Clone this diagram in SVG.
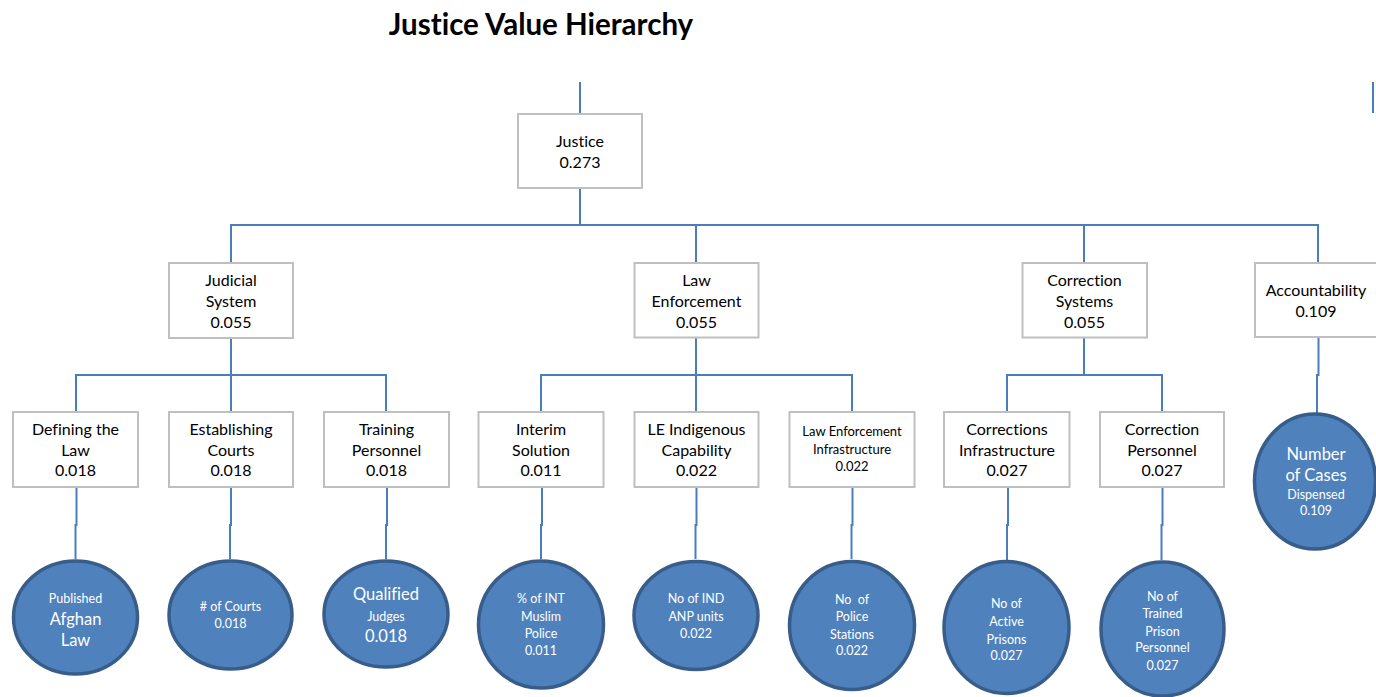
<svg xmlns="http://www.w3.org/2000/svg" width="1376" height="697" viewBox="0 0 1376 697">
<style>
text{font-variant-ligatures:none}
.box{fill:#fff;stroke:#bfbfbf;stroke-width:2}
.ell{fill:#4f81bd;stroke:#385d8a;stroke-width:3.5}
.con{fill:none;stroke:#4a7ebb;stroke-width:2}
.t{font-family:Lato,"Liberation Sans",sans-serif;font-size:16px;fill:#000;text-anchor:middle}
.ts{font-family:Lato,"Liberation Sans",sans-serif;font-size:13px;fill:#000;text-anchor:middle}
.w{font-family:Lato,"Liberation Sans",sans-serif;font-size:12.5px;fill:#fff;text-anchor:middle}
.wl{font-family:Lato,"Liberation Sans",sans-serif;font-size:16.5px;fill:#fff;text-anchor:middle}
.title{font-family:Lato,"Liberation Sans",sans-serif;font-size:29.5px;font-weight:bold;fill:#000;text-anchor:middle}
</style>
<rect width="1376" height="697" fill="#fff"/>
<text class="title" x="541" y="35">Justice Value Hierarchy</text>

<g id="connectors">
<path class="con" d="M580 82 V114"/>
<path class="con" d="M1373 82 V113"/>
<path class="con" d="M580 188 V225"/>
<path class="con" d="M231 263 V225 H1318 V263"/>
<path class="con" d="M696 225 V263"/>
<path class="con" d="M1084 225 V263"/>
<path class="con" d="M231 338 V375"/>
<path class="con" d="M76 412 V375 H386 V412"/>
<path class="con" d="M231 375 V412"/>
<path class="con" d="M696 337 V375"/>
<path class="con" d="M541 412 V375 H852 V412"/>
<path class="con" d="M696 375 V412"/>
<path class="con" d="M1084 337 V375"/>
<path class="con" d="M1007 412 V375 H1162 V412"/>
<path class="con" d="M76.5 487 V525 H75.5 V559"/>
<path class="con" d="M231 487 V525 H230 V559"/>
<path class="con" d="M387 487 V525 H386 V559"/>
<path class="con" d="M542 487 V525 H541 V559"/>
<path class="con" d="M696.5 487 V525 H695.5 V559"/>
<path class="con" d="M852.5 487 V525 H851.5 V559"/>
<path class="con" d="M1008 487 V525 H1007 V560"/>
<path class="con" d="M1162.5 487 V525 H1161.5 V560"/>
<path class="con" d="M1318.5 337 V375 H1317 V413"/>
</g>

<g id="justice"><rect class="box" x="518" y="114" width="124" height="74"/>
<text class="t" x="580" y="147">Justice</text><text class="t" x="580" y="168">0.273</text></g>

<g id="judicial"><rect class="box" x="169" y="263" width="124" height="75"/>
<text class="t" x="231" y="285.5">Judicial</text><text class="t" x="231" y="306.5">System</text><text class="t" x="231" y="327.5">0.055</text></g>

<g id="lawenf"><rect class="box" x="634.5" y="263" width="124" height="74.5"/>
<text class="t" x="696.5" y="285.5">Law</text><text class="t" x="696.5" y="306.5">Enforcement</text><text class="t" x="696.5" y="327.5">0.055</text></g>

<g id="corrsys"><rect class="box" x="1022.5" y="263" width="124.5" height="74.5"/>
<text class="t" x="1084.5" y="285.5">Correction</text><text class="t" x="1084.5" y="306.5">Systems</text><text class="t" x="1084.5" y="327.5">0.055</text></g>

<g id="account"><rect class="box" x="1255" y="263" width="125" height="74"/>
<text class="t" x="1316" y="296">Accountability</text><text class="t" x="1316" y="317">0.109</text></g>

<g id="defining"><rect class="box" x="13" y="412" width="125" height="75"/>
<text class="t" x="75.5" y="434.5">Defining the</text><text class="t" x="75.5" y="455.5">Law</text><text class="t" x="75.5" y="476">0.018</text></g>

<g id="establishing"><rect class="box" x="169" y="412" width="124" height="75"/>
<text class="t" x="231" y="434.5">Establishing</text><text class="t" x="231" y="455.5">Courts</text><text class="t" x="231" y="476">0.018</text></g>

<g id="training"><rect class="box" x="324" y="412" width="125" height="75"/>
<text class="t" x="386.5" y="434.5">Training</text><text class="t" x="386.5" y="455.5">Personnel</text><text class="t" x="386.5" y="476">0.018</text></g>

<g id="interim"><rect class="box" x="478.5" y="412" width="125" height="75"/>
<text class="t" x="541" y="434.5">Interim</text><text class="t" x="541" y="455.5">Solution</text><text class="t" x="541" y="476">0.011</text></g>

<g id="leindig"><rect class="box" x="634.5" y="412" width="124" height="75"/>
<text class="t" x="696.5" y="434.5">LE Indigenous</text><text class="t" x="696.5" y="455.5">Capability</text><text class="t" x="696.5" y="476">0.022</text></g>

<g id="leinfra"><rect class="box" x="789.5" y="412" width="125" height="75"/>
<text class="ts" x="852" y="436">Law Enforcement</text><text class="ts" x="852" y="453.5">Infrastructure</text><text class="ts" x="852" y="471">0.022</text></g>

<g id="corrinfra"><rect class="box" x="944" y="412" width="125.5" height="75"/>
<text class="t" x="1007" y="434.5">Corrections</text><text class="t" x="1007" y="455.5">Infrastructure</text><text class="t" x="1007" y="476">0.027</text></g>

<g id="corrpers"><rect class="box" x="1100" y="412" width="124" height="75"/>
<text class="t" x="1162" y="434.5">Correction</text><text class="t" x="1162" y="455.5">Personnel</text><text class="t" x="1162" y="476">0.027</text></g>

<g id="m-afghanlaw"><ellipse class="ell" cx="75.5" cy="617.5" rx="62" ry="56.5"/>
<text class="w" x="75.5" y="603">Published</text><text class="wl" x="75.5" y="625">Afghan</text><text class="wl" x="75.5" y="645.5">Law</text></g>

<g id="m-courts"><ellipse class="ell" cx="230.5" cy="615" rx="61.5" ry="54"/>
<text class="w" x="230.5" y="611">#&#160;of Courts</text><text class="w" x="230.5" y="628">0.018</text></g>

<g id="m-judges"><ellipse class="ell" cx="386" cy="614" rx="62" ry="53"/>
<text class="wl" x="386" y="599.5">Qualified</text><text class="w" x="386" y="620.5">Judges</text><text class="wl" x="386" y="641.5">0.018</text></g>

<g id="m-intpolice"><ellipse class="ell" cx="541" cy="624.5" rx="62.5" ry="63.5"/>
<text class="w" x="541" y="603">% of INT</text><text class="w" x="541" y="620.5">Muslim</text><text class="w" x="541" y="638">Police</text><text class="w" x="541" y="654.5">0.011</text></g>

<g id="m-anp"><ellipse class="ell" cx="696" cy="615.5" rx="62" ry="54"/>
<text class="w" x="696" y="603">No of IND</text><text class="w" x="696" y="620.5">ANP units</text><text class="w" x="696" y="638">0.022</text></g>

<g id="m-stations"><ellipse class="ell" cx="852" cy="625.5" rx="62.5" ry="64"/>
<text class="w" x="852" y="604" xml:space="preserve">No  of</text><text class="w" x="852" y="621">Police</text><text class="w" x="852" y="639">Stations</text><text class="w" x="852" y="655">0.022</text></g>

<g id="m-prisons"><ellipse class="ell" cx="1006.5" cy="627.5" rx="62.5" ry="66"/>
<text class="w" x="1006.5" y="608">No of</text><text class="w" x="1006.5" y="626">Active</text><text class="w" x="1006.5" y="643.5">Prisons</text><text class="w" x="1006.5" y="659.5">0.027</text></g>

<g id="m-trained"><ellipse class="ell" cx="1162.5" cy="629" rx="61.5" ry="67"/>
<text class="w" x="1162.5" y="601">No of</text><text class="w" x="1162.5" y="618">Trained</text><text class="w" x="1162.5" y="636">Prison</text><text class="w" x="1162.5" y="652">Personnel</text><text class="w" x="1162.5" y="670">0.027</text></g>

<g id="m-cases"><ellipse class="ell" cx="1315" cy="481.5" rx="60.5" ry="67.5"/>
<text class="wl" x="1316" y="460">Number</text><text class="wl" x="1316" y="481">of Cases</text><text class="w" x="1316" y="498.5">Dispensed</text><text class="w" x="1316" y="514.5">0.109</text></g>
</svg>
